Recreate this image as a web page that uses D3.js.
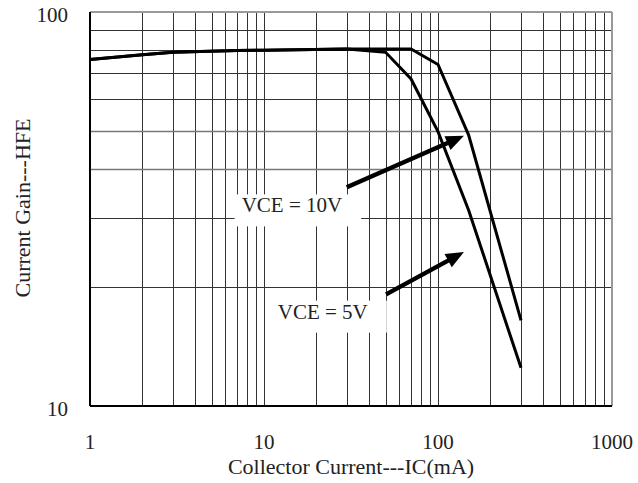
<!DOCTYPE html>
<html>
<head>
<meta charset="utf-8">
<title></title>
<style>
  body { margin: 0; background: #fff; }
  text { font-family: "Liberation Serif", "Times New Roman", serif; fill: #222; }
</style>
</head>
<body>
<script src="https://d3js.org/d3.v7.min.js"></script>
<script>

// chart values
var ic10 = [1, 2, 3, 7, 10, 30, 70, 100, 150, 300];
var hfe10 = [75.8, 77.9, 79.0, 79.8, 80.0, 80.6, 80.6, 73.6, 48.7, 16.5];
var ic5 = [1, 2, 3, 7, 10, 30, 50, 70, 100, 150, 300];
var hfe5 = [75.8, 77.9, 79.0, 79.8, 80.0, 80.6, 79.0, 67.6, 49.7, 31.4, 12.5];

var xTicks = [1, 10, 100, 1000];
var yTicks = [10, 100];
var xGrid = [2, 3, 4, 5, 6, 7, 8, 9, 10, 20, 30, 40, 50, 60, 70, 80, 90, 100, 200, 300, 400, 500, 600, 700, 800, 900];
var yGrid = [20, 30, 40, 50, 60, 70, 80, 90];

var labels = ["VCE = 10V", "VCE = 5V"];
var labelAt = [[7.44, 31.0], [12.0, 16.66]];
var arrowFrom = [[29.9, 35.9], [50.3, 19.2]];
var arrowTo = [[141, 48.5], [141, 24.6]];

var xTitle = "Collector Current---IC(mA)";
var yTitle = "Current Gain---HFE";

// dimensions
var W = 638, H = 483;
var margin = { top: 12, right: 26, bottom: 77, left: 90 },
    width = W - margin.left - margin.right,
    height = H - margin.top - margin.bottom;

var svg = d3.select("body").append("svg")
    .attr("width", W)
    .attr("height", H);

var g = svg.append("g")
    .attr("transform", "translate(" + margin.left + "," + margin.top + ")");

var x = d3.scaleLog().domain([1, 1000]).range([0, width]);
var y = d3.scaleLog().domain([10, 100]).range([height, 0]);

// grid
g.selectAll(".vg").data(xGrid).enter().append("line")
    .attr("x1", function(d) { return Math.round(x(d)) + 0.5; })
    .attr("x2", function(d) { return Math.round(x(d)) + 0.5; })
    .attr("y1", 0).attr("y2", height)
    .attr("stroke", "#333").attr("stroke-width", 1);

g.selectAll(".hg").data(yGrid).enter().append("line")
    .attr("y1", function(d) { return Math.round(y(d)) + 0.5; })
    .attr("y2", function(d) { return Math.round(y(d)) + 0.5; })
    .attr("x1", 0).attr("x2", width)
    .attr("stroke", function(d) { return (d == 40 || d == 50) ? "#777" : "#333"; })
    .attr("stroke-width", function(d) { return (d == 40 || d == 50) ? 1.6 : 1; });

// frame
g.append("line").attr("x1", 0).attr("x2", width).attr("y1", 0).attr("y2", 0)
    .attr("stroke", "#999").attr("stroke-width", 2);
g.append("line").attr("x1", width).attr("x2", width).attr("y1", 0).attr("y2", height)
    .attr("stroke", "#999").attr("stroke-width", 2);
g.append("line").attr("x1", 0).attr("x2", 0).attr("y1", 0).attr("y2", height)
    .attr("stroke", "#000").attr("stroke-width", 2);
g.append("line").attr("x1", 0).attr("x2", width).attr("y1", height).attr("y2", height)
    .attr("stroke", "#000").attr("stroke-width", 2);

// label boxes (white background hides the grid)
var lab = g.selectAll(".lab").data(labels).enter().append("text")
    .attr("x", function(d, i) { return x(labelAt[i][0]); })
    .attr("y", function(d, i) { return y(labelAt[i][1]); })
    .style("font-size", "21px")
    .text(function(d) { return d; });

lab.each(function() {
    var b = this.getBBox();
    g.insert("rect", "text")
        .attr("x", b.x - 7)
        .attr("y", b.y + 1)
        .attr("width", b.width + 26)
        .attr("height", b.height + 8)
        .attr("fill", "#fff");
});

// curves
var line = d3.line()
    .x(function(d) { return x(d[0]); })
    .y(function(d) { return y(d[1]); });

[[ic10, hfe10], [ic5, hfe5]].forEach(function(s) {
    g.append("path")
        .datum(d3.zip(s[0], s[1]))
        .attr("d", line)
        .attr("fill", "none")
        .attr("stroke", "#000")
        .attr("stroke-width", 3)
        .attr("stroke-linejoin", "miter");
});

// arrows
arrowFrom.forEach(function(a, i) {
    var x0 = x(a[0]), y0 = y(a[1]),
        x1 = x(arrowTo[i][0]), y1 = y(arrowTo[i][1]);
    var dx = x1 - x0, dy = y1 - y0, len = Math.sqrt(dx * dx + dy * dy);
    var ux = dx / len, uy = dy / len;
    var hl = 18, hw = 7.5;
    var bx = x1 - ux * hl, by = y1 - uy * hl;
    g.append("line")
        .attr("x1", x0).attr("y1", y0)
        .attr("x2", bx + ux * 2).attr("y2", by + uy * 2)
        .attr("stroke", "#000").attr("stroke-width", 4.5);
    g.append("polygon")
        .attr("points", [[x1, y1], [bx - uy * hw, by + ux * hw], [bx + uy * hw, by - ux * hw]].join(" "))
        .attr("fill", "#000");
});

// tick labels
g.selectAll(".xt").data(xTicks).enter().append("text")
    .attr("x", function(d) { return x(d); })
    .attr("y", height + 43)
    .attr("text-anchor", "middle")
    .style("font-size", "21px")
    .text(function(d) { return d; });

g.selectAll(".yt").data(yTicks).enter().append("text")
    .attr("x", -22)
    .attr("y", function(d) { return y(d) + 10; })
    .attr("text-anchor", "end")
    .style("font-size", "21px")
    .text(function(d) { return d; });

// axis titles
g.append("text")
    .attr("x", width / 2)
    .attr("y", height + 68)
    .attr("text-anchor", "middle")
    .style("font-size", "22px")
    .text(xTitle);

g.append("text")
    .attr("transform", "translate(" + (30 - margin.left) + "," + (height / 2 - 1) + ") rotate(-90)")
    .attr("text-anchor", "middle")
    .style("font-size", "22px")
    .text(yTitle);

</script>
</body>
</html>
